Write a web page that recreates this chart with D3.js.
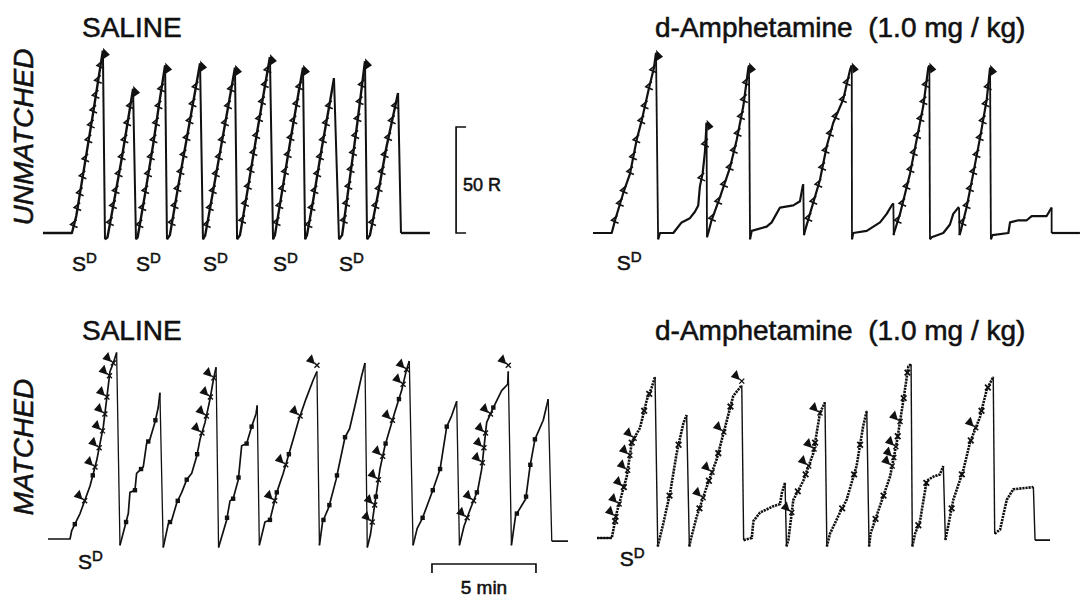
<!DOCTYPE html>
<html>
<head>
<meta charset="utf-8">
<script src="https://cdn.jsdelivr.net/npm/d3@7"></script>
<style>
  body { margin: 0; background: #fff; }
  svg { display: block; font-family: "Liberation Sans", Arial, Helvetica, sans-serif; }
  text { stroke: #111; stroke-width: 0.55px; }
</style>
</head>
<body>
<script>
// cumulative records, points are [minutes, responses]; each list runs from one pen reset to the next

// --- unmatched, saline ---
var tlRamps = [
  [[0, 0], [1.39, 0], [1.6, 8], [2.0, 32], [2.4, 56], [2.75, 78], [2.88, 86]],
  [[2.98, -3], [3.1, -2], [3.4, 14], [3.8, 36], [4.1, 54], [4.33, 68]],
  [[4.47, -3], [4.55, -2], [4.9, 18], [5.3, 42], [5.6, 62], [5.87, 79]],
  [[5.96, -3], [6.1, -1], [6.5, 22], [6.9, 44], [7.3, 66], [7.55, 80]],
  [[7.69, -3], [7.8, -1], [8.2, 21], [8.6, 43], [9.0, 65], [9.23, 78]],
  [[9.33, -3], [9.47, -1], [9.9, 24], [10.3, 48], [10.7, 71], [10.91, 83]],
  [[11.06, -3], [11.15, -1], [11.5, 20], [11.9, 44], [12.3, 67], [12.5, 78]],
  [[12.6, -3], [12.69, -1], [13.0, 16], [13.4, 40], [13.8, 62], [13.99, 73]],
  [[14.23, -3], [14.38, -1], [14.7, 22], [15.1, 51], [15.48, 81]],
  [[15.58, -3], [15.72, -1], [16.1, 18], [16.5, 40], [17.07, 66]]
];
var tlTail = [[17.21, 0], [18.6, 0]];
var tlPips = [
  [4, 12, 19, 27, 35, 44, 51, 58, 65, 72, 79],
  [5, 13, 20, 28, 36, 44, 52, 60],
  [4, 12, 20, 28, 36, 44, 52, 60, 68],
  [5, 13, 21, 29, 37, 45, 53, 61, 69],
  [4, 12, 20, 28, 36, 44, 52, 60, 68],
  [6, 14, 22, 30, 38, 46, 54, 62, 70, 77],
  [5, 13, 21, 29, 37, 45, 53, 61, 69],
  [4, 12, 20, 28, 36, 44, 52, 60],
  [6, 14, 22, 30, 38, 46, 54, 62, 70],
  [5, 13, 21, 29, 37, 45, 53, 60]
];
var tlPeakArrows = [0, 1, 2, 3, 4, 5, 6, 8];
var tlSD = [0, 2, 4, 6, 8];

// --- unmatched, d-amphetamine ---
var trRamps = [
  [[0, 0], [0.9, 0], [1.06, 6], [1.46, 19], [1.78, 28], [2.1, 44], [2.34, 53], [2.66, 67], [2.93, 78], [3.03, 85]],
  [[3.13, -3], [3.22, 0], [3.86, 0], [4.02, 2], [4.26, 5], [4.66, 7], [4.9, 10], [5.06, 13], [5.14, 22], [5.27, 28], [5.38, 38], [5.46, 52]],
  [[5.48, -2], [5.54, 0], [5.7, 6], [6.11, 17], [6.59, 31], [6.91, 44], [7.23, 60], [7.47, 78], [7.5, 79]],
  [[7.55, -3], [7.63, 1], [8.35, 3], [8.59, 5], [8.99, 12], [9.63, 13], [9.95, 15], [10.08, 22], [10.11, 23]],
  [[10.14, -1], [10.19, 1], [10.43, 9], [10.91, 25], [11.24, 41], [11.55, 52], [12.03, 63], [12.36, 77], [12.44, 79]],
  [[12.45, -3], [12.51, 0], [13.16, 1], [13.48, 3], [13.8, 5], [14.12, 9], [14.36, 13], [14.44, 14]],
  [[14.46, -1], [14.47, 0], [14.76, 9], [15.24, 28], [15.56, 44], [15.88, 60], [16.12, 78], [16.17, 79]],
  [[16.2, -3], [16.28, -2], [16.84, 0], [17.16, 4], [17.32, 9], [17.56, 12], [17.6, 12]],
  [[17.62, -1], [17.68, 1], [17.96, 12], [18.28, 28], [18.61, 45], [18.93, 63], [19.09, 78]],
  [[19.13, -3], [19.2, -1], [19.97, 0], [20.05, 5], [20.45, 6], [20.85, 6], [21.09, 8], [21.81, 8], [22.05, 12]]
];
var trTail = [[22.05, 0], [23.41, 0]];
var trPips = [
  [6, 14, 20, 29, 36, 44, 53, 60, 69, 77],
  [26, 42],
  [7, 15, 23, 31, 39, 47, 55, 63, 71],
  [],
  [7, 15, 23, 31, 39, 47, 55, 63, 71],
  [],
  [6, 14, 22, 30, 38, 46, 54, 62, 70],
  [],
  [5, 13, 21, 29, 37, 45, 53, 61, 69],
  []
];
var trPeakArrows = [0, 1, 2, 4, 6, 8];
var trSD = [0];

// --- matched, saline ---
var blRamps = [
  [[0, 0], [1.06, 0], [1.14, 4], [1.54, 12], [2.02, 25], [2.34, 37], [2.66, 53], [2.82, 66], [2.98, 79], [3.14, 83], [3.3, 88]],
  [[3.46, -3], [3.7, 6], [3.86, 12], [3.94, 22], [4.18, 23], [4.26, 31], [4.58, 34], [4.74, 45], [4.9, 47], [5.14, 55], [5.3, 62], [5.38, 69]],
  [[5.54, -4], [5.78, 7], [5.95, 9], [6.19, 17], [6.43, 22], [6.67, 28], [6.91, 31], [7.15, 39], [7.31, 47], [7.55, 55], [7.79, 66], [7.95, 75], [8.08, 81]],
  [[8.2, -4], [8.59, 9], [8.75, 18], [8.9, 19], [9.15, 28], [9.31, 44], [9.55, 45], [9.79, 53], [10.0, 59], [10.06, 63]],
  [[10.16, -3], [10.43, 8], [10.67, 9], [11.0, 22], [11.31, 31], [11.55, 39], [11.79, 47], [12.05, 56], [12.4, 66], [12.75, 75], [12.93, 79]],
  [[13.05, -3], [13.2, 8], [13.5, 15], [13.85, 28], [14.28, 48], [14.5, 52], [14.76, 63], [15.08, 77], [15.24, 83]],
  [[15.35, -4], [15.5, 2], [15.69, 15], [15.96, 33], [16.2, 44], [16.68, 60], [17.0, 70], [17.24, 80], [17.37, 84]],
  [[17.55, -3], [17.75, 5], [18.01, 10], [18.5, 23], [18.85, 33], [19.17, 53], [19.4, 58], [19.65, 65]],
  [[19.78, -3], [20.0, 6], [20.3, 14], [20.66, 23], [20.85, 33], [21.09, 55], [21.41, 62], [21.81, 70], [22.1, 73], [22.13, 79]],
  [[22.28, -3], [22.48, 11], [22.97, 19], [23.17, 34], [23.41, 47], [23.81, 56], [24.05, 66]]
];
var blTail = [[24.22, -1], [25.0, -1]];
var blArrows = [
  [18, 34, 43, 51, 59, 67, 77, 83], [], [50, 58, 67, 76], [], [18, 35, 58, 82],
  [], [8, 16, 28, 39, 56, 73, 80], [], [10, 18, 36, 43, 50, 59, 82], []
];
var blMarks = [
  [7, 30], [8, 23, 33, 46, 56], [8, 18, 28, 40], [10, 19, 29, 45, 53], [9, 22, 40],
  [9, 16, 30, 48], [20, 45, 66], [10, 23, 33, 53], [22, 62], [12, 20, 35, 47]
];
var blSD = [0];

// --- matched, d-amphetamine ---
var brRamps = [
  [[0, 0], [0.71, 0], [0.95, 12], [1.43, 29], [1.67, 45], [2.07, 52], [2.39, 65], [2.63, 71], [2.79, 76]],
  [[2.92, -4], [2.97, -2], [3.19, 7], [3.51, 21], [3.83, 40], [4.15, 54], [4.31, 58]],
  [[4.44, -4], [4.5, -1], [4.79, 10], [5.27, 24], [5.75, 37], [6.07, 49], [6.55, 67], [6.96, 72]],
  [[7.05, -1], [7.44, 0], [7.52, 8], [7.84, 12], [8.48, 15], [8.8, 16], [8.88, 21], [9.04, 26]],
  [[9.11, -4], [9.2, -1], [9.44, 18], [9.92, 27], [10.4, 40], [10.72, 59], [10.96, 64]],
  [[11.05, -4], [11.2, 2], [11.68, 12], [12.0, 18], [12.48, 34], [12.8, 53], [12.97, 60]],
  [[13.08, -4], [13.15, 2], [13.6, 15], [14.09, 29], [14.41, 45], [14.73, 65], [14.97, 81], [15.1, 82]],
  [[15.16, -4], [15.29, 2], [15.53, 8], [15.85, 27], [16.18, 29], [16.49, 30], [16.65, 34]],
  [[16.75, -1], [16.81, 2], [17.13, 18], [17.61, 32], [17.93, 45], [18.41, 57], [18.74, 70], [19.05, 76]],
  [[19.12, 2], [19.38, 4], [19.7, 18], [20.01, 23], [20.98, 24]]
];
var brTail = [[21.06, -1], [21.78, -1]];
var brArrows = [
  [10, 16, 24, 32, 39, 47], [], [19, 31, 50, 74], [], [12, 34, 42, 59],
  [], [34, 38, 43, 55], [], [52], []
];
var brMarks = [
  [8, 24, 45, 60, 68], [20, 44], [14, 27, 40, 62], [], [22, 30, 45],
  [14, 30, 44], [9, 20, 48, 66, 78], [6, 26], [14, 30, 46, 60, 71], []
];
var brSD = [0];

var titles = ['SALINE', 'd-Amphetamine  (1.0 mg / kg)'];
var rowLabels = ['UNMATCHED', 'MATCHED'];

var W = 1085, H = 597;
var PX_PER_MIN = 20.8, PX_PER_R = 2.12;
var INK = '#111';

var svg = d3.select('body').append('svg')
  .attr('width', W)
  .attr('height', H);

function tAtCount(ramp, count) {
  // invert the record: time at which the cumulative count reaches `count`
  return d3.scaleLinear()
    .domain(ramp.map(function(p) { return p[1]; }))
    .range(ramp.map(function(p) { return p[0]; }))
    .clamp(true)(count);
}

function drawRecord(o) {
  var x = d3.scaleLinear().domain([0, 1]).range([o.x0, o.x0 + PX_PER_MIN]);
  var y = d3.scaleLinear().domain([0, 50]).range([o.y0, o.y0 - 50 * PX_PER_R]);
  var line = d3.line().x(function(d) { return x(d[0]); }).y(function(d) { return y(d[1]); });
  var g = svg.append('g');

  o.ramps.forEach(function(r, i) {
    var next = i < o.ramps.length - 1 ? o.ramps[i + 1][0] : o.tail[0];
    g.append('path')
      .attr('d', line(r))
      .attr('fill', 'none')
      .attr('stroke', INK)
      .attr('stroke-width', o.width)
      .attr('stroke-linejoin', 'round')
      .attr('stroke-dasharray', o.dotted ? '2.2,0.9' : null);
    g.append('path')
      .attr('d', line([r[r.length - 1], next]))
      .attr('fill', 'none')
      .attr('stroke', INK)
      .attr('stroke-width', o.resetWidth);
  });
  if (o.dotted) {
    // flat lead-in stays solid
    g.append('path').attr('d', line(o.ramps[0].slice(0, 2)))
      .attr('fill', 'none').attr('stroke', INK).attr('stroke-width', 1.8);
  }
  g.append('path')
    .attr('d', line(o.tail))
    .attr('fill', 'none')
    .attr('stroke', INK)
    .attr('stroke-width', o.dotted ? 1.8 : o.width);

  // pen pips (top records)
  (o.pips || []).forEach(function(list, i) {
    list.forEach(function(c) {
      g.append('path')
        .attr('transform', 'translate(' + x(tAtCount(o.ramps[i], c)) + ',' + y(c) + ')')
        .attr('d', 'M2.5,-5L-3.5,0L3.5,3')
        .attr('fill', 'none')
        .attr('stroke', INK)
        .attr('stroke-width', 1.6);
    });
  });

  // arrowheads at the top of a record
  (o.peakArrows || []).forEach(function(i) {
    var p = o.ramps[i][o.ramps[i].length - 1];
    g.append('path')
      .attr('transform', 'translate(' + x(p[0]) + ',' + y(p[1]) + ')')
      .attr('d', 'M0,-3L7,4L1,8Z')
      .attr('fill', INK);
  });

  // arrowheads beside a record (bottom records)
  (o.arrows || []).forEach(function(list, i) {
    list.forEach(function(c) {
      var px = x(tAtCount(o.ramps[i], c)), py = y(c);
      g.append('path')
        .attr('transform', 'translate(' + px + ',' + py + ')')
        .attr('d', 'M-2,-1L-11,-4L-5,-11Z')
        .attr('fill', INK);
      g.append('path')
        .attr('transform', 'translate(' + px + ',' + py + ')')
        .attr('d', 'M-2.5,-2.5L2.5,2.5M-2.5,2.5L2.5,-2.5')
        .attr('stroke', INK)
        .attr('stroke-width', 1.4);
    });
  });

  (o.marks || []).forEach(function(list, i) {
    list.forEach(function(c) {
      var px = x(tAtCount(o.ramps[i], c)), py = y(c);
      if (o.markShape === 'square') {
        g.append('rect')
          .attr('x', px - 2.2).attr('y', py - 2.2)
          .attr('width', 4.4).attr('height', 4.4)
          .attr('fill', INK);
      } else {
        g.append('path')
          .attr('transform', 'translate(' + px + ',' + py + ')')
          .attr('d', 'M-2.8,-2.8L2.8,2.8M-2.8,2.8L2.8,-2.8')
          .attr('stroke', INK)
          .attr('stroke-width', 1.8);
      }
    });
  });

  // S-delta labels under the record starts
  o.sd.forEach(function(i) {
    var start = i === 0 ? o.ramps[0][1] : o.ramps[i][0];
    var t = g.append('text')
      .attr('x', x(start[0]) + o.sdDx)
      .attr('y', o.y0 + o.sdDy)
      .attr('font-size', 21)
      .attr('fill', INK);
    t.append('tspan').text('S');
    t.append('tspan').attr('font-size', 15).attr('dy', -8).text('D');
  });

  return { x: x, y: y };
}

var tl = drawRecord({ x0: 43, y0: 233, ramps: tlRamps, tail: tlTail, pips: tlPips,
  peakArrows: tlPeakArrows, sd: tlSD, sdDx: 0, sdDy: 38, width: 2.4, resetWidth: 2 });
drawRecord({ x0: 593, y0: 233, ramps: trRamps, tail: trTail, pips: trPips,
  peakArrows: trPeakArrows, sd: trSD, sdDx: 5, sdDy: 37, width: 2.2, resetWidth: 1.8 });
var bl = drawRecord({ x0: 48, y0: 539, ramps: blRamps, tail: blTail, arrows: blArrows,
  marks: blMarks, markShape: 'square', sd: blSD, sdDx: 8, sdDy: 30, width: 1.7, resetWidth: 1.3 });
drawRecord({ x0: 597, y0: 538, ramps: brRamps, tail: brTail, arrows: brArrows,
  marks: brMarks, markShape: 'x', sd: brSD, sdDx: 8, sdDy: 28, width: 2.6, resetWidth: 1.4, dotted: true });

// 50-response calibration bracket, in the top-left record's units
var calX = tl.x(19.86);
svg.append('path')
  .attr('d', 'M' + (calX + 10) + ',' + tl.y(50) + 'H' + calX + 'V' + tl.y(0) + 'H' + (calX + 10))
  .attr('fill', 'none').attr('stroke', INK).attr('stroke-width', 1.7);
svg.append('text')
  .attr('x', calX + 7).attr('y', tl.y(20))
  .attr('font-size', 18).attr('fill', INK)
  .text('50 R');

// 5-minute time bar, in the bottom-left record's units
var barY = bl.y(0) + 25;
svg.append('path')
  .attr('d', 'M' + bl.x(18.46) + ',' + (barY + 9) + 'V' + barY + 'H' + bl.x(23.46) + 'V' + (barY + 9))
  .attr('fill', 'none').attr('stroke', INK).attr('stroke-width', 1.7);
svg.append('text')
  .attr('x', (bl.x(18.46) + bl.x(23.46)) / 2).attr('y', barY + 30)
  .attr('text-anchor', 'middle')
  .attr('font-size', 19).attr('fill', INK)
  .text('5 min');

// column titles
[37, 340].forEach(function(by) {
  svg.append('text').attr('x', 82).attr('y', by)
    .attr('font-size', 28).attr('fill', INK).text(titles[0]);
  svg.append('text').attr('x', 655).attr('y', by)
    .attr('font-size', 28).attr('fill', INK)
    .style('white-space', 'pre').text(titles[1]);
});

// row labels
[[137, rowLabels[0]], [447, rowLabels[1]]].forEach(function(d) {
  svg.append('text')
    .attr('transform', 'translate(33,' + d[0] + ') rotate(-90)')
    .attr('text-anchor', 'middle')
    .attr('font-size', 28)
    .attr('font-style', 'italic')
    .attr('fill', INK)
    .text(d[1]);
});
</script>
</body>
</html>
